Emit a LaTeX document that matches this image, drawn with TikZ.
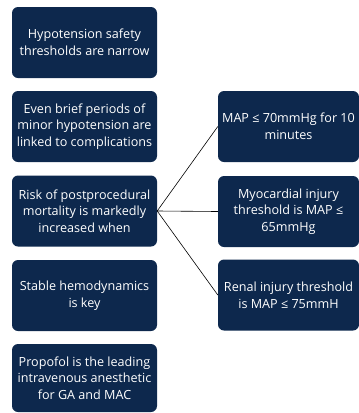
\documentclass[tikz,border=0pt]{standalone}
\usepackage{fontspec}
\setmainfont{Open Sans}
\definecolor{navy}{HTML}{0D284D}
\tikzset{
  box/.style={rectangle, rounded corners=6pt, fill=navy, text=white, align=center,
    inner sep=0pt, font=\fontsize{12.6}{16.6}\selectfont},
  lbox/.style={box, minimum width=145pt, minimum height=71pt},
  rbox/.style={box, minimum width=141pt, minimum height=71pt},
  link/.style={draw=black, line width=0.6pt}
}
\begin{document}
\begin{tikzpicture}[x=1pt,y=-1pt]
\useasboundingbox (0,0) rectangle (359,413);
\node[lbox] (b1) at (84.5,42.5) {Hypotension safety\\thresholds are narrow};
\node[lbox] (b2) at (84.5,126.5) {Even brief periods of\\minor hypotension are\\linked to complications};
\node[lbox] (b3) at (84.5,211) {Risk of postprocedural\\mortality is markedly\\increased when};
\node[lbox] (b4) at (84.5,295.5) {Stable hemodynamics\\is key};
\node[lbox, minimum height=68pt] (b5) at (84.5,378) {Propofol is the leading\\intravenous anesthetic\\for GA and MAC};
\node[rbox] (ra) at (288.5,126.5) {MAP ≤ 70mmHg for 10\\minutes};
\node[rbox] (rb) at (288.5,211.5) {Myocardial injury\\threshold is MAP ≤\\65mmHg};
\node[rbox] (rc) at (288.5,295) {Renal injury threshold\\is MAP ≤ 75mmH};
\draw[link] (b3.east) -- (ra.west);
\draw[link] (b3.east) -- (rb.west);
\draw[link] (b3.east) -- (rc.west);
\end{tikzpicture}
\end{document}
